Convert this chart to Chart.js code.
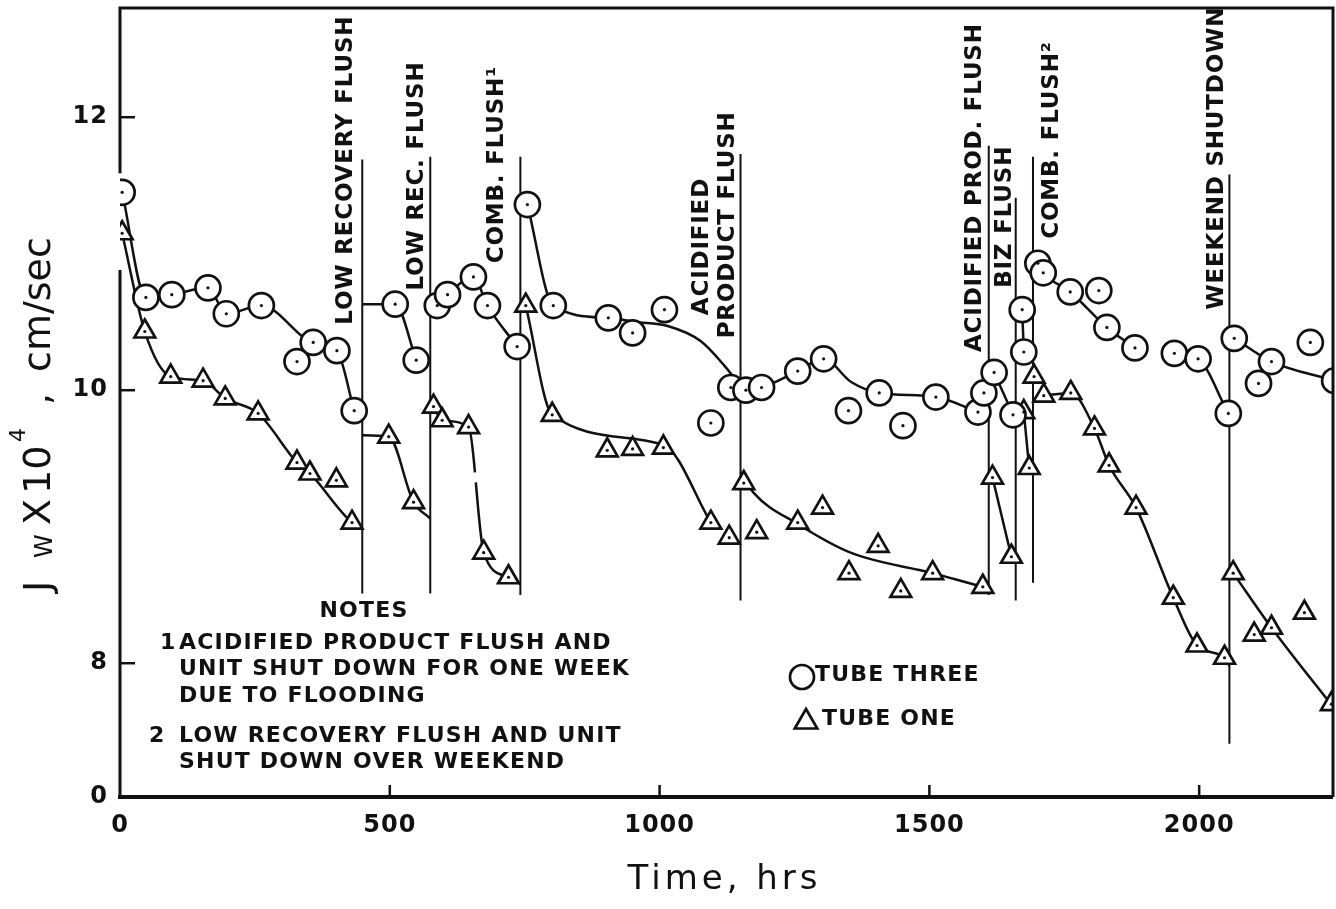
<!DOCTYPE html>
<html>
<head>
<meta charset="utf-8">
<script src="https://cdn.jsdelivr.net/npm/chart.js@4.4.0/dist/chart.umd.min.js"></script>
<style>
  html, body { margin: 0; padding: 0; background: #fff; }
  #wrap { width: 1336px; height: 909px; position: relative; }
</style>
</head>
<body>
<div id="wrap"><canvas id="chart"></canvas></div>
<script>
// Tube three (circles): time in hrs, Jw x 10^4 in cm/sec
const tube3Hours = [4, 48, 96, 163, 197, 262, 328, 358, 402, 434,
  510, 549,
  588, 607, 655, 681, 736,
  755, 803, 905, 950, 1009, 1095,
  1132, 1160, 1189, 1256, 1304, 1350, 1407, 1451, 1512, 1590,
  1601, 1620, 1655, 1672, 1675,
  1701, 1711, 1761, 1814, 1829, 1881, 1954, 1998,
  2054, 2065, 2110, 2134, 2206, 2251];
const tube3Flux = [11.45, 10.68, 10.70, 10.75, 10.56, 10.62, 10.21, 10.35, 10.29, 9.85,
  10.63, 10.22,
  10.62, 10.70, 10.83, 10.62, 10.32,
  11.36, 10.62, 10.53, 10.42, 10.59, 9.76,
  10.02, 10.00, 10.02, 10.14, 10.23, 9.85, 9.98, 9.74, 9.95, 9.84,
  9.98, 10.13, 9.82, 10.59, 10.28,
  10.93, 10.86, 10.72, 10.73, 10.46, 10.31, 10.27, 10.23,
  9.83, 10.38, 10.05, 10.21, 10.35, 10.07];

// Tube one (triangles)
const tube1Hours = [4, 46, 94, 154, 195, 256, 328, 352, 401, 430,
  498, 544,
  581, 597, 646, 674, 720,
  752, 801, 903, 950, 1007, 1095, 1129,
  1156, 1180, 1256, 1302, 1351, 1405, 1447, 1506, 1599,
  1617, 1652, 1675, 1685,
  1694, 1712, 1762, 1806, 1833, 1883, 1952, 1996, 2047,
  2063, 2102, 2134, 2195, 2245];
const tube1Flux = [11.15, 10.43, 10.10, 10.07, 9.94, 9.83, 9.47, 9.39, 9.34, 9.03,
  9.66, 9.18,
  9.88, 9.78, 9.73, 8.81, 8.63,
  10.62, 9.82, 9.56, 9.57, 9.58, 9.03, 8.92,
  9.32, 8.96, 9.03, 9.14, 8.66, 8.86, 8.53, 8.66, 8.56,
  9.36, 8.78, 9.84, 9.43,
  10.10, 9.96, 9.98, 9.72, 9.45, 9.14, 8.48, 8.13, 8.04,
  8.66, 8.21, 8.26, 8.37, 7.70];

// hand drawn trend lines, null breaks a run
const tube3LineHours = [4, 48, 96, 163, 197, 262, 358, 402, 434, null,
  449, 510, 549, null,
  588, 607, 655, 681, 736, null,
  755, 803, 905, 955, 1015, 1076, 1120, 1150, null,
  1150, 1189, 1256, 1304, 1355, 1407, 1512, 1590, null,
  1620, 1655, null,
  1672, 1675, null,
  1701, 1711, 1761, 1829, 1881, null,
  1954, 1998, 2054, null,
  2065, 2134, 2251];
const tube3LineFlux = [11.45, 10.68, 10.70, 10.75, 10.56, 10.62, 10.35, 10.29, 9.85, null,
  10.63, 10.63, 10.22, null,
  10.62, 10.70, 10.83, 10.62, 10.32, null,
  11.36, 10.62, 10.53, 10.50, 10.47, 10.36, 10.18, 10.03, null,
  10.00, 10.02, 10.14, 10.23, 10.06, 9.98, 9.95, 9.84, null,
  10.13, 9.82, null,
  10.59, 10.28, null,
  10.93, 10.86, 10.72, 10.46, 10.31, null,
  10.27, 10.23, 9.83, null,
  10.38, 10.21, 10.07];

const tube1LineHours = [4, 46, 94, 154, 195, 256, 328, 352, 430, 449, null,
  449, 498, 544, 575, null,
  581, 597, 646, 674, 720, 742, null,
  752, 801, 1007, 1095, null,
  1150, 1174, 1256, 1354, 1506, 1599, 1610, null,
  1617, 1652, null,
  1675, 1685, null,
  1712, 1762, 1806, 1833, 1883, 1952, 1996, 2047, 2056, null,
  2063, 2134, 2248];
const tube1LineFlux = [11.15, 10.43, 10.10, 10.07, 9.94, 9.83, 9.47, 9.39, 9.03, 8.99, null,
  9.67, 9.66, 9.18, 9.06, null,
  9.88, 9.78, 9.73, 8.81, 8.63, 8.58, null,
  10.62, 9.82, 9.60, 9.03, null,
  9.40, 9.25, 9.02, 8.81, 8.66, 8.56, 8.55, null,
  9.36, 8.78, null,
  9.84, 9.43, null,
  9.96, 9.98, 9.72, 9.45, 9.14, 8.48, 8.13, 8.04, 7.98, null,
  8.66, 8.26, 7.68];
const tube1DashedFrom = 646;   // broken stroke between 646 and 674 hrs

// flush events
const flushHours = [449, 575, 742, 1150, 1610, 1660, 1692, 2056];
const flushTop = [11.69, 11.71, 11.71, 11.73, 11.79, 11.41, 11.71, 11.58];
const flushBottom = [8.51, 8.51, 8.50, 8.46, 8.50, 8.46, 8.59, 7.41];
const flushLabels = [
  ['LOW RECOVERY FLUSH'],
  ['LOW REC. FLUSH'],
  ['COMB. FLUSH\u00b9'],
  ['ACIDIFIED', 'PRODUCT FLUSH'],
  ['ACIDIFIED PROD. FLUSH'],
  ['BIZ FLUSH'],
  ['COMB. FLUSH\u00b2'],
  ['WEEKEND SHUTDOWN']
];
// label placement: px offset of text baseline from the line, flux where the text starts
const flushLabelPlace = [
  [[-10, 10.48]],
  [[-7, 10.73]],
  [[-17, 10.93]],
  [[-33, 10.55], [-7, 10.38]],
  [[-8, 10.28]],
  [[-5, 10.75]],
  [[25, 11.11]],
  [[-6, 10.59]]
];

const xTickValues = [0, 500, 1000, 1500, 2000];
const yTickValues = [8, 10, 12];
const yBreak = 7.02;        // axis is broken, bottom is labelled 0
const yBreakLabel = '0';
const leftSpineGap = [10.88, 11.59];

const notesTitle = 'NOTES';
const notesLines = [
  ['1', 'ACIDIFIED PRODUCT FLUSH AND'],
  ['', 'UNIT SHUT DOWN FOR ONE WEEK'],
  ['', 'DUE TO FLOODING'],
  ['2', 'LOW RECOVERY FLUSH AND UNIT'],
  ['', 'SHUT DOWN OVER WEEKEND']
];
const legendLabels = ['TUBE THREE', 'TUBE ONE'];

const ink = '#111';
const family = 'DejaVu Sans';

function pts(xs, ys) {
  return xs.map((x, i) => ({ x: x, y: ys[i] }));
}

const flushData = [];
flushHours.forEach((h, i) => {
  flushData.push({ x: h, y: flushBottom[i] }, { x: h, y: flushTop[i] }, { x: h, y: null });
});

const overlay = {
  id: 'overlay',
  beforeDraw(chart) {
    chart.ctx.letterSpacing = '1px';
  },
  afterDatasetsDraw(chart) {
    const ctx = chart.ctx;
    const a = chart.chartArea;
    const x = chart.scales.x, y = chart.scales.y;
    ctx.save();
    ctx.strokeStyle = ink;
    ctx.fillStyle = ink;
    ctx.lineCap = 'butt';

    // frame
    ctx.lineWidth = 3;
    ctx.beginPath();
    ctx.moveTo(a.left, y.getPixelForValue(leftSpineGap[1]));
    ctx.lineTo(a.left, a.top);
    ctx.lineTo(a.right, a.top);
    ctx.lineTo(a.right, a.bottom);
    ctx.stroke();
    ctx.beginPath();
    ctx.moveTo(a.left, y.getPixelForValue(leftSpineGap[0]));
    ctx.lineTo(a.left, a.bottom);
    ctx.stroke();
    ctx.lineWidth = 4;
    ctx.beginPath();
    ctx.moveTo(a.left - 2, a.bottom);
    ctx.lineTo(a.right, a.bottom);
    ctx.stroke();

    // inward ticks
    ctx.lineWidth = 2.5;
    xTickValues.filter(v => v > 0).forEach(v => {
      const px = x.getPixelForValue(v);
      ctx.beginPath();
      ctx.moveTo(px, a.bottom);
      ctx.lineTo(px, a.bottom - 12);
      ctx.stroke();
    });
    yTickValues.forEach(v => {
      const py = y.getPixelForValue(v);
      ctx.beginPath();
      ctx.moveTo(a.left, py);
      ctx.lineTo(a.left + 15, py);
      ctx.stroke();
    });

    // flush labels, reading upwards
    ctx.font = 'bold 23px "' + family + '"';
    ctx.letterSpacing = '0.8px';
    ctx.textAlign = 'left';
    ctx.textBaseline = 'alphabetic';
    flushLabels.forEach((lines, i) => {
      const lx = x.getPixelForValue(flushHours[i]);
      lines.forEach((t, j) => {
        const p = flushLabelPlace[i][j];
        ctx.save();
        ctx.translate(lx + p[0], y.getPixelForValue(p[1]));
        ctx.rotate(-Math.PI / 2);
        ctx.fillText(t, 0, 0);
        ctx.restore();
      });
    });

    // notes block
    ctx.font = 'bold 22px "' + family + '"';
    ctx.letterSpacing = '1.2px';
    ctx.textBaseline = 'middle';
    ctx.textAlign = 'center';
    ctx.fillText(notesTitle, 364, 611);
    ctx.textAlign = 'left';
    const noteY = [643, 669, 696, 736, 762];
    notesLines.forEach((ln, i) => {
      if (ln[0]) ctx.fillText(ln[0], ln[0] === '1' ? 160 : 149, noteY[i]);
      ctx.fillText(ln[1], 179, noteY[i]);
    });

    // legend
    const H = Chart.helpers;
    ctx.fillStyle = '#fff';
    ctx.lineWidth = 2.7;
    H.drawPoint(ctx, { pointStyle: 'circle', radius: 12, borderWidth: 2.7, rotation: 0 }, 802, 677);
    H.drawPoint(ctx, { pointStyle: 'triangle', radius: 13, borderWidth: 2.7, rotation: 0 }, 806, 722);
    ctx.fillStyle = ink;
    ctx.fillText(legendLabels[0], 815, 675);
    ctx.fillText(legendLabels[1], 822, 719);

    // axis titles
    ctx.letterSpacing = '4px';
    ctx.textAlign = 'center';
    ctx.textBaseline = 'alphabetic';
    ctx.font = '34px "' + family + '"';
    ctx.fillText('Time, hrs', (a.left + a.right) / 2 - 2, 889);

    ctx.letterSpacing = '0px';
    ctx.textAlign = 'left';
    const parts = [
      ['J', 38, 592, 0], ['W', 24, 558, 2], ['X', 38, 525, 0], ['10', 38, 494, 0],
      ['4', 22, 442, -25], [',', 38, 405, 0], ['cm/sec', 38, 372, 0]
    ];
    parts.forEach(p => {
      ctx.save();
      ctx.font = p[1] + 'px "' + family + '"';
      ctx.translate(50 + p[3], p[2]);
      ctx.rotate(-Math.PI / 2);
      ctx.fillText(p[0], 0, 0);
      ctx.restore();
    });
    ctx.restore();
  }
};

const tickFont = { family: family, size: 24, weight: 'bold' };

new Chart(document.getElementById('chart'), {
  type: 'scatter',
  data: {
    datasets: [
      {
        data: pts(tube3Hours, tube3Flux).concat(pts(tube1Hours, tube1Flux)),
        pointStyle: 'circle', pointRadius: 1.6, backgroundColor: ink, borderWidth: 0, order: 0
      },
      {
        data: pts(tube3Hours, tube3Flux),
        pointStyle: 'circle', pointRadius: 12.5, borderWidth: 2.7,
        borderColor: ink, backgroundColor: '#fff', order: 1
      },
      {
        data: pts(tube1Hours, tube1Flux),
        pointStyle: 'triangle', pointRadius: 12, borderWidth: 2.7,
        borderColor: ink, backgroundColor: '#fff', order: 1
      },
      {
        data: flushData, showLine: true, pointRadius: 0, borderWidth: 2,
        borderColor: ink, spanGaps: false, order: 2
      },
      {
        data: pts(tube3LineHours, tube3LineFlux), showLine: true, pointRadius: 0,
        borderWidth: 2.5, borderColor: ink, spanGaps: false,
        cubicInterpolationMode: 'monotone', order: 3
      },
      {
        data: pts(tube1LineHours, tube1LineFlux), showLine: true, pointRadius: 0,
        borderWidth: 2.5, borderColor: ink, spanGaps: false,
        cubicInterpolationMode: 'monotone', order: 3,
        segment: {
          borderDash: c => tube1LineHours[c.p0DataIndex] === tube1DashedFrom ? [46, 10, 300] : undefined
        }
      }
    ]
  },
  options: {
    responsive: true,
    maintainAspectRatio: false,
    animation: false,
    layout: { autoPadding: false, padding: { left: 0, right: 3, top: 8, bottom: 0 } },
    plugins: { legend: { display: false }, tooltip: { enabled: false } },
    scales: {
      x: {
        type: 'linear', min: 0, max: 2248,
        afterBuildTicks: s => { s.ticks = xTickValues.map(v => ({ value: v })); },
        afterFit: s => { s.height = 112; s.paddingLeft = 0; s.paddingRight = 0; },
        grid: { display: false, drawTicks: false },
        border: { display: false },
        ticks: { color: ink, font: tickFont, padding: 14, maxRotation: 0, autoSkip: false,
          callback: v => String(v) }
      },
      y: {
        type: 'linear', min: yBreak, max: 12.8,
        afterBuildTicks: s => { s.ticks = [yBreak].concat(yTickValues).map(v => ({ value: v })); },
        afterFit: s => { s.width = 120; s.paddingTop = 0; s.paddingBottom = 0; },
        grid: { display: false, drawTicks: false },
        border: { display: false },
        ticks: { color: ink, font: tickFont, padding: 12, autoSkip: false,
          callback: v => v === yBreak ? yBreakLabel : String(v) }
      }
    }
  },
  plugins: [overlay]
});
</script>
</body>
</html>
